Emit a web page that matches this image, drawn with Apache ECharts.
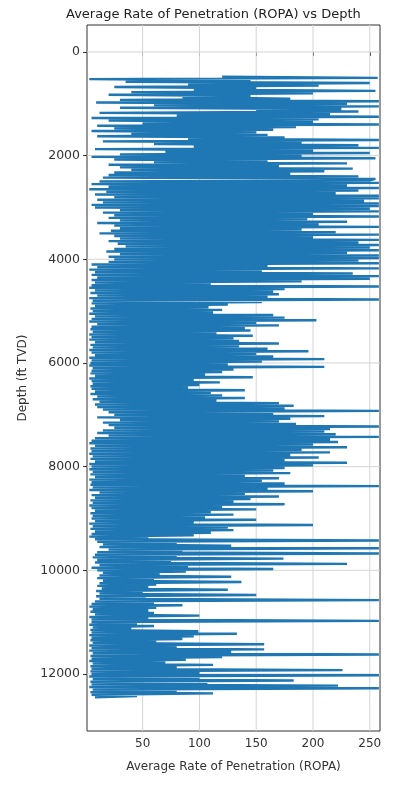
<!DOCTYPE html>
<html>
<head>
<meta charset="utf-8">
<script src="https://cdn.jsdelivr.net/npm/echarts@6/dist/echarts.min.js"></script>
<style>
  html, body { margin: 0; padding: 0; background: #fff; }
  #ropaChart { width: 409px; height: 786px; }
</style>
</head>
<body>
<div id="ropaChart"></div>
<script>
// depth grid of the log (ft TVD): first sample and spacing
const depthStart = 475;
const depthStep = 25;

// average rate of penetration, 20 samples (500 ft) per row
const ropa = [
  120, 257, 3, 145, 35, 250, 90, 205, 25, 150, 95, 255, 40, 200, 20, 145, 85, 180, 30, 258,
  9, 230, 60, 258, 30, 225, 150, 240, 12, 215, 80, 258, 5, 205, 20, 200, 50, 258, 10, 185,
  25, 165, 5, 150, 40, 160, 10, 175, 90, 258, 15, 190, 60, 240, 95, 258, 8, 200, 70, 250,
  30, 190, 5, 255, 25, 160, 60, 230, 20, 170, 30, 235, 40, 210, 25, 180, 20, 240, 15, 255,
  250, 12, 258, 5, 230, 20, 258, 3, 240, 18, 220, 8, 258, 25, 258, 10, 245, 15, 258, 5,
  258, 8, 250, 30, 258, 15, 200, 25, 258, 20, 195, 30, 230, 10, 205, 25, 258, 30, 190, 22,
  220, 12, 258, 25, 200, 30, 258, 20, 240, 28, 258, 35, 250, 25, 258, 18, 230, 30, 258, 20,
  258, 25, 240, 20, 258, 5, 160, 10, 258, 3, 155, 8, 235, 5, 258, 10, 250, 5, 190, 8,
  110, 5, 258, 3, 175, 8, 165, 4, 170, 10, 160, 3, 258, 6, 155, 5, 125, 8, 108, 4,
  120, 6, 112, 3, 165, 8, 175, 5, 203, 3, 150, 10, 170, 5, 140, 4, 145, 6, 115, 3,
  147, 5, 130, 3, 135, 8, 170, 4, 135, 6, 160, 3, 196, 5, 150, 8, 165, 3, 210, 5,
  155, 4, 125, 3, 210, 6, 130, 5, 120, 4, 105, 8, 147, 3, 95, 5, 118, 6, 100, 4,
  90, 5, 140, 8, 110, 4, 120, 10, 140, 6, 115, 12, 170, 8, 183, 10, 175, 15, 258, 20,
  165, 25, 210, 10, 180, 30, 170, 15, 185, 20, 258, 25, 215, 15, 210, 10, 220, 20, 258, 8,
  215, 5, 222, 3, 200, 8, 230, 4, 190, 5, 215, 3, 180, 6, 205, 4, 175, 8, 230, 3,
  200, 5, 175, 3, 165, 6, 180, 4, 140, 8, 170, 3, 155, 5, 175, 4, 258, 6, 160, 3,
  200, 12, 140, 5, 170, 8, 145, 4, 130, 6, 175, 3, 120, 5, 150, 8, 110, 4, 130, 6,
  105, 5, 150, 8, 95, 3, 200, 6, 125, 4, 130, 8, 110, 5, 95, 3, 55, 8, 258, 10,
  80, 15, 128, 12, 258, 20, 85, 10, 258, 8, 80, 6, 174, 10, 75, 8, 230, 12, 90, 5,
  165, 10, 88, 15, 65, 12, 128, 10, 60, 15, 137, 12, 62, 10, 55, 14, 125, 9, 50, 12,
  150, 9, 53, 12, 258, 8, 60, 5, 85, 3, 62, 6, 55, 4, 60, 8, 100, 3, 55, 5,
  258, 5, 45, 3, 60, 6, 40, 4, 99, 5, 133, 3, 95, 5, 85, 4, 62, 6, 157, 3,
  80, 5, 157, 3, 128, 6, 258, 4, 120, 5, 88, 3, 70, 6, 112, 4, 80, 5, 226, 4,
  100, 5, 258, 3, 100, 6, 183, 4, 107, 5, 222, 3, 258, 6, 80, 4, 112, 5, 45, 8
];

// tick labels
const ropaTicks = [50, 100, 150, 200, 250];
const depthTicks = [0, 2000, 4000, 6000, 8000, 10000, 12000];

// axis limits
const xMin = 1, xMax = 259;
const yMin = -520, yMax = 13100;

const points = ropa.map((v, i) => [v, depthStart + i * depthStep]);

// grid lines under the log: one two-point line series per tick
const gridStyle = { color: '#d4d4d4', width: 1 };
const gridSeries = ropaTicks.map(v => [[v, yMin], [v, yMax]])
  .concat(depthTicks.map(d => [[xMin, d], [xMax, d]]))
  .map(seg => ({
    type: 'line',
    data: seg,
    silent: true,
    showSymbol: false,
    z: 1,
    lineStyle: gridStyle,
    itemStyle: { color: gridStyle.color }
  }));

const chart = echarts.init(document.getElementById('ropaChart'));
const font = 'DejaVu Sans';

chart.setOption({
  animation: false,
  backgroundColor: '#fff',
  title: {
    text: 'Average Rate of Penetration (ROPA) vs Depth',
    left: 61,
    top: 3,
    textStyle: { fontFamily: font, fontSize: 13, fontWeight: 'normal', color: '#222' }
  },
  grid: {
    left: 87, right: 29, top: 25, bottom: 55,
    show: true,
    borderColor: '#333',
    borderWidth: 1
  },
  xAxis: {
    type: 'value',
    min: xMin,
    max: xMax,
    name: 'Average Rate of Penetration (ROPA)',
    nameLocation: 'middle',
    nameGap: 30,
    nameTextStyle: { fontFamily: font, fontSize: 12, color: '#333' },
    axisLine: { show: false },
    axisTick: { show: true, length: 4, lineStyle: { color: '#333' }, customValues: ropaTicks },
    axisLabel: { fontFamily: font, fontSize: 12, color: '#333', margin: 7, customValues: ropaTicks, formatter: v => String(v) },
    splitLine: { show: false }
  },
  yAxis: {
    type: 'value',
    inverse: true,
    min: yMin,
    max: yMax,
    name: 'Depth (ft TVD)',
    nameLocation: 'middle',
    nameGap: 56,
    nameTextStyle: { fontFamily: font, fontSize: 12, color: '#333' },
    axisLine: { show: false },
    axisTick: { show: true, length: 4, lineStyle: { color: '#333' }, customValues: depthTicks },
    axisLabel: { fontFamily: font, fontSize: 12.5, color: '#333', margin: 7, customValues: depthTicks, formatter: v => String(v) },
    splitLine: { show: false }
  },
  series: gridSeries.concat([{
    type: 'line',
    data: points,
    showSymbol: false,
    z: 3,
    lineStyle: { color: '#1f77b4', width: 2.4 },
    itemStyle: { color: '#1f77b4' }
  }])
});
</script>
</body>
</html>
